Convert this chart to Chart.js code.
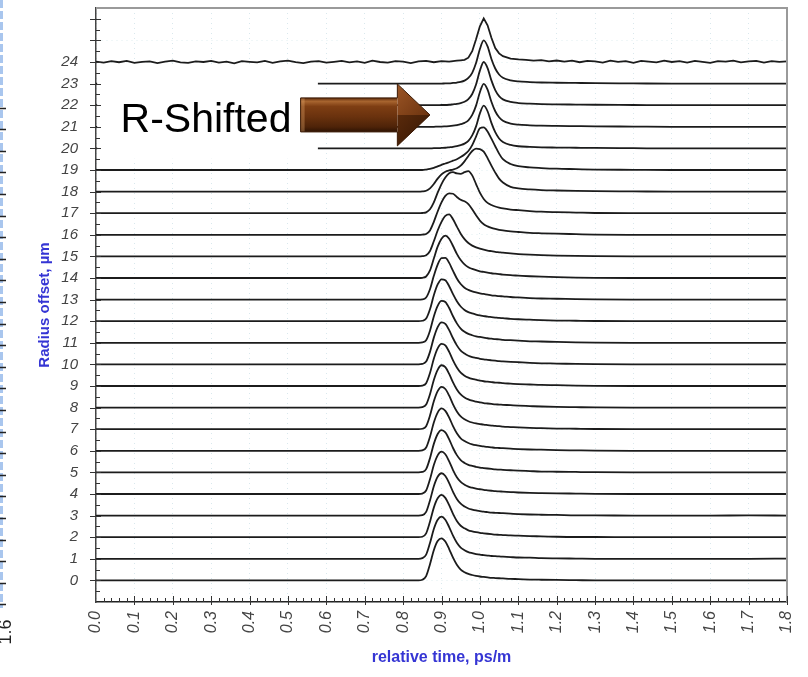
<!DOCTYPE html>
<html>
<head>
<meta charset="utf-8">
<script src="https://cdn.jsdelivr.net/npm/chart.js@4.4.1/dist/chart.umd.min.js"></script>
<style>
  html, body { margin: 0; background: #fff; }
  #wrap { width: 808px; height: 677px; }
</style>
</head>
<body>
<div id="wrap"><canvas id="chart"></canvas></div>
<script>
// radius offsets (µm), one trace per offset
const offsets = [0,1,2,3,4,5,6,7,8,9,10,11,12,13,14,15,16,17,18,19,20,21,22,23,24];

// relative time (ps/m) where traces 0..23 were read
const relTime = [0, 0.80, 0.84, 0.85, 0.86, 0.87, 0.88, 0.89, 0.90, 0.91, 0.92, 0.93, 0.94, 0.95, 0.96, 0.97, 0.98, 0.99,
  1.00, 1.01, 1.02, 1.03, 1.04, 1.05, 1.06, 1.08, 1.10, 1.13, 1.16, 1.20, 1.25, 1.30, 1.40, 1.50, 1.60, 1.70, 1.80];

// pulse height above each trace's own baseline, one row per offset 0..23
const heights = [
  [0,0,0,0.03,0.2,0.75,1.4,1.82,1.95,1.8,1.45,1.05,0.72,0.5,0.38,0.3,0.25,0.21,0.18,0.16,0.14,0.12,0.11,0.1,0.09,0.07,0.06,0.04,0.03,0.02,0.01,0,0,0,0,0,0],
  [0,0,0,0.03,0.19,0.73,1.38,1.81,1.95,1.81,1.47,1.07,0.74,0.52,0.4,0.31,0.26,0.22,0.19,0.17,0.15,0.13,0.12,0.11,0.1,0.08,0.06,0.05,0.03,0.02,0.01,0,0,0,0,0,0.01],
  [0,0,0,0.02,0.18,0.72,1.37,1.8,1.96,1.82,1.48,1.08,0.75,0.53,0.41,0.32,0.27,0.23,0.2,0.18,0.16,0.14,0.12,0.11,0.1,0.08,0.07,0.05,0.04,0.02,0.01,0.01,0,0,0,0,0],
  [0,0,0,0.02,0.17,0.7,1.36,1.8,1.96,1.83,1.5,1.1,0.77,0.55,0.42,0.33,0.28,0.24,0.21,0.18,0.16,0.14,0.13,0.12,0.11,0.09,0.07,0.05,0.04,0.03,0.01,0.01,0,0,0,0.01,0],
  [0,0,0,0.02,0.16,0.68,1.34,1.79,1.96,1.84,1.51,1.11,0.78,0.56,0.43,0.34,0.29,0.25,0.22,0.19,0.17,0.15,0.13,0.12,0.11,0.09,0.07,0.05,0.04,0.03,0.02,0.01,0,0,0,0,0],
  [0,0,0,0.02,0.15,0.66,1.32,1.78,1.96,1.85,1.53,1.13,0.8,0.57,0.44,0.35,0.3,0.26,0.22,0.2,0.18,0.16,0.14,0.13,0.12,0.1,0.08,0.06,0.04,0.03,0.02,0.01,0,0,0,0,0],
  [0,0,0,0.02,0.15,0.65,1.31,1.77,1.96,1.85,1.54,1.14,0.81,0.58,0.45,0.36,0.3,0.26,0.23,0.2,0.18,0.16,0.14,0.13,0.12,0.1,0.08,0.06,0.05,0.03,0.02,0.01,0,0,0,0,0],
  [0,0,0,0.02,0.14,0.63,1.29,1.76,1.96,1.86,1.55,1.15,0.82,0.59,0.46,0.37,0.31,0.27,0.24,0.21,0.19,0.17,0.15,0.14,0.12,0.1,0.08,0.06,0.05,0.03,0.02,0.01,0,0,0,0,0],
  [0,0,0,0.02,0.14,0.62,1.28,1.75,1.96,1.87,1.56,1.17,0.84,0.61,0.47,0.38,0.32,0.28,0.24,0.21,0.19,0.17,0.15,0.14,0.13,0.11,0.09,0.07,0.05,0.03,0.02,0.01,0,0,0,0,0],
  [0,0,0,0.02,0.13,0.6,1.26,1.74,1.95,1.88,1.58,1.19,0.86,0.62,0.48,0.39,0.33,0.29,0.25,0.22,0.2,0.18,0.16,0.15,0.13,0.11,0.09,0.07,0.05,0.04,0.02,0.01,0,0,0,0,0],
  [0,0,0,0.02,0.13,0.58,1.24,1.73,1.95,1.88,1.59,1.21,0.88,0.64,0.5,0.4,0.34,0.3,0.26,0.23,0.21,0.19,0.17,0.15,0.14,0.12,0.1,0.07,0.05,0.04,0.02,0.01,0,0,0,0,0],
  [0,0,0,0.02,0.12,0.56,1.22,1.71,1.94,1.89,1.61,1.23,0.9,0.66,0.51,0.41,0.35,0.3,0.27,0.24,0.21,0.19,0.17,0.16,0.14,0.12,0.1,0.07,0.06,0.04,0.02,0.01,0,0,0,0,0],
  [0,0,0,0.02,0.12,0.55,1.2,1.7,1.94,1.9,1.62,1.25,0.92,0.68,0.52,0.42,0.36,0.31,0.27,0.24,0.21,0.19,0.17,0.15,0.14,0.11,0.09,0.07,0.05,0.03,0.02,0.01,0,0,0,0,0],
  [0,0,0,0.01,0.1,0.48,1.1,1.62,1.92,1.93,1.7,1.33,0.98,0.72,0.55,0.45,0.38,0.33,0.29,0.26,0.23,0.2,0.18,0.16,0.15,0.12,0.1,0.07,0.05,0.04,0.02,0.01,0,0,0,0,0],
  [0,0,0,0.01,0.07,0.35,0.9,1.45,1.82,1.96,1.82,1.48,1.12,0.83,0.63,0.5,0.42,0.36,0.31,0.28,0.25,0.22,0.2,0.18,0.16,0.13,0.11,0.08,0.06,0.04,0.02,0.01,0,0,0,0,0],
  [0,0,0,0.01,0.05,0.25,0.7,1.2,1.6,1.88,1.95,1.72,1.38,1.05,0.8,0.62,0.5,0.42,0.36,0.31,0.27,0.24,0.21,0.19,0.17,0.14,0.11,0.08,0.06,0.04,0.02,0.01,0,0,0,0,0],
  [0,0,0,0.01,0.04,0.2,0.6,1.08,1.5,1.8,1.92,1.9,1.75,1.62,1.55,1.42,1.18,0.9,0.66,0.49,0.39,0.32,0.27,0.23,0.2,0.16,0.13,0.09,0.07,0.05,0.03,0.01,0,0,0,0,0],
  [0,0,0,0.01,0.04,0.18,0.5,0.95,1.35,1.65,1.85,1.9,1.84,1.82,1.9,1.95,1.75,1.35,0.95,0.66,0.48,0.38,0.31,0.26,0.22,0.17,0.14,0.1,0.07,0.05,0.03,0.01,0,0,0,0,0],
  [0,0,0,0.01,0.04,0.15,0.35,0.6,0.8,0.92,0.98,1.02,1.08,1.2,1.4,1.65,1.88,1.99,1.97,1.85,1.55,1.2,0.88,0.6,0.42,0.22,0.15,0.1,0.07,0.05,0.03,0.02,0.01,0,0,0,0],
  [0,0,0,0,0.02,0.05,0.1,0.17,0.24,0.3,0.36,0.43,0.5,0.6,0.72,0.88,1.15,1.55,1.93,1.97,1.78,1.45,1.1,0.76,0.5,0.28,0.18,0.12,0.09,0.06,0.04,0.02,0.01,0,0,0,0],
  [0,0,0,0,0,0,0.01,0.01,0.02,0.03,0.05,0.07,0.1,0.15,0.22,0.35,0.6,1.02,1.62,1.98,1.72,1.18,0.75,0.46,0.3,0.16,0.1,0.07,0.05,0.04,0.03,0.02,0.01,0,0,0,0],
  [0,0,0,0,0,0,0,0.01,0.01,0.02,0.03,0.05,0.08,0.12,0.18,0.3,0.55,0.98,1.6,1.99,1.72,1.16,0.72,0.44,0.28,0.15,0.1,0.07,0.05,0.04,0.03,0.02,0.01,0,0,0,0],
  [0,0,0,0,0,0,0,0,0.01,0.01,0.02,0.04,0.06,0.1,0.16,0.28,0.52,0.96,1.6,2.0,1.72,1.15,0.7,0.42,0.27,0.15,0.1,0.07,0.05,0.04,0.03,0.02,0.01,0,0,0,0],
  [0,0,0,0,0,0,0,0,0,0.01,0.01,0.03,0.05,0.08,0.14,0.26,0.5,0.95,1.6,2.0,1.72,1.14,0.7,0.42,0.27,0.15,0.1,0.07,0.05,0.04,0.03,0.02,0.01,0,0,0,0]
];

// top trace (offset 24) is noisy, read on a finer time grid
const topTime = [0,0.02,0.04,0.06,0.08,0.10,0.12,0.14,0.16,0.18,0.20,0.22,0.24,0.26,0.28,0.30,0.32,0.34,0.36,0.38,0.40,0.42,0.44,0.46,
  0.48,0.50,0.52,0.54,0.56,0.58,0.60,0.62,0.64,0.66,0.68,0.70,0.72,0.74,0.76,0.78,0.80,0.82,0.84,0.86,0.88,0.90,0.92,0.94,
  0.95,0.96,0.97,0.98,0.99,1.00,1.01,1.02,1.03,1.04,1.05,1.06,
  1.08,1.10,1.12,1.14,1.16,1.18,1.20,1.22,1.24,1.26,1.28,1.30,1.32,1.34,1.36,1.38,1.40,1.42,1.44,1.46,1.48,1.50,1.52,1.54,
  1.56,1.58,1.60,1.62,1.64,1.66,1.68,1.70,1.72,1.74,1.76,1.78,1.80];
const topHeights = [0.02,-0.03,0.04,-0.01,0.05,-0.04,0.01,0.03,-0.05,0.02,0.06,-0.02,-0.04,0.03,0.00,0.05,-0.03,0.02,-0.06,0.04,0.01,-0.02,0.05,-0.04,
  0.03,0.06,-0.01,-0.05,0.02,0.04,-0.03,0.01,0.05,-0.02,0.03,-0.04,0.06,0.00,-0.03,0.04,0.02,-0.05,0.03,0.05,-0.01,0.04,0.02,0.06,
  0.08,0.1,0.2,0.5,1.05,1.65,2.02,1.7,1.12,0.65,0.4,0.27,
  0.16,0.12,0.1,0.06,0.09,0.03,0.07,0.02,0.06,-0.01,0.05,0.03,-0.03,0.06,0.01,0.04,-0.04,0.05,0.02,-0.02,0.06,0.00,0.04,-0.03,
  0.05,0.01,-0.04,0.04,0.02,0.06,-0.02,0.03,0.05,-0.03,0.04,0.01,0.03];

const FONT = '"Liberation Sans", Arial, sans-serif';

// note placed over the upper traces, in data units
const note = { text: 'R-Shifted', boxX: [0.003, 0.578], boxY: [19.52, 23.8], textX: 0.064, textY: 20.75,
  arrowX: [0.533, 0.785, 0.87], arrowY: 21.55 };

const datasets = offsets.map(n => {
  const noisy = n === 24;
  const xs = noisy ? topTime : relTime;
  const hs = noisy ? topHeights : heights[n];
  return {
    label: String(n),
    data: xs.map((t, i) => ({ x: t, y: n + hs[i] })),
    borderColor: '#1c1c1c',
    borderWidth: 1.8,
    pointRadius: 0,
    fill: false,
    tension: noisy ? 0 : 0.4,
    cubicInterpolationMode: noisy ? 'default' : 'monotone'
  };
});

const decor = {
  id: 'decor',
  afterDatasetsDraw(chart) {
    const { ctx, chartArea: a, scales: { x, y } } = chart;
    ctx.save();

    // white note box with text and arrow
    const bx0 = x.getPixelForValue(note.boxX[0]), bx1 = x.getPixelForValue(note.boxX[1]);
    const by0 = y.getPixelForValue(note.boxY[1]), by1 = y.getPixelForValue(note.boxY[0]);
    ctx.fillStyle = '#fff';
    ctx.fillRect(bx0, by0, bx1 - bx0, by1 - by0);
    ctx.fillStyle = '#000';
    ctx.font = '41px ' + FONT;
    ctx.textBaseline = 'alphabetic';
    ctx.fillText(note.text, x.getPixelForValue(note.textX), y.getPixelForValue(note.textY));

    const tx = x.getPixelForValue(note.arrowX[0]), nx = x.getPixelForValue(note.arrowX[1]), hx = x.getPixelForValue(note.arrowX[2]);
    const cy = y.getPixelForValue(note.arrowY);
    const sh = 17, hh = 31;
    let g = ctx.createLinearGradient(0, cy - sh, 0, cy + sh);
    g.addColorStop(0, '#5e2b0b');
    g.addColorStop(0.1, '#a8652f');
    g.addColorStop(0.25, '#7e3e13');
    g.addColorStop(0.55, '#6a320e');
    g.addColorStop(0.85, '#4e2308');
    g.addColorStop(1, '#2e1303');
    ctx.fillStyle = g;
    ctx.fillRect(tx, cy - sh, nx - tx, sh * 2);
    // bevel on the tail end
    ctx.fillStyle = 'rgba(230,170,110,0.35)';
    ctx.fillRect(tx, cy - sh, 4, sh * 2);
    // head, upper and lower facets
    g = ctx.createLinearGradient(nx, cy - hh, hx, cy);
    g.addColorStop(0, '#9c5626');
    g.addColorStop(1, '#6c330f');
    ctx.fillStyle = g;
    ctx.beginPath(); ctx.moveTo(nx, cy - hh); ctx.lineTo(hx, cy); ctx.lineTo(nx, cy); ctx.closePath(); ctx.fill();
    g = ctx.createLinearGradient(nx, cy, hx, cy + hh);
    g.addColorStop(0, '#5a2a0b');
    g.addColorStop(1, '#341604');
    ctx.fillStyle = g;
    ctx.beginPath(); ctx.moveTo(nx, cy); ctx.lineTo(hx, cy); ctx.lineTo(nx, cy + hh); ctx.closePath(); ctx.fill();
    ctx.strokeStyle = '#3a1904';
    ctx.lineWidth = 1;
    ctx.beginPath();
    ctx.moveTo(tx, cy - sh); ctx.lineTo(nx, cy - sh); ctx.lineTo(nx, cy - hh); ctx.lineTo(hx, cy);
    ctx.lineTo(nx, cy + hh); ctx.lineTo(nx, cy + sh); ctx.lineTo(tx, cy + sh); ctx.closePath();
    ctx.stroke();

    // frame: grey top and right edges
    ctx.strokeStyle = '#9a9a9a';
    ctx.lineWidth = 2;
    ctx.beginPath();
    ctx.moveTo(a.left, a.top); ctx.lineTo(a.right, a.top); ctx.lineTo(a.right, a.bottom);
    ctx.stroke();

    // major / minor tick marks
    ctx.strokeStyle = '#333';
    ctx.lineWidth = 1;
    ctx.beginPath();
    for (let i = 1; i <= 90; i++) {
      const px = Math.round(x.getPixelForValue(i / 50)) + 0.5;
      const major = i % 5 === 0;
      ctx.moveTo(px, a.bottom + (major ? 3 : 0));
      ctx.lineTo(px, a.bottom - (major ? 6 : 4));
    }
    for (let k = -1; k <= 52; k++) {
      const py = Math.round(y.getPixelForValue(k / 2)) + 0.5;
      const major = k % 2 === 0;
      ctx.moveTo(a.left - (major ? 6 : 0), py);
      ctx.lineTo(a.left + (major ? 5 : 4), py);
    }
    ctx.stroke();

    // cropped neighbour panel at the left edge
    ctx.strokeStyle = '#a9c6ee';
    ctx.lineWidth = 3;
    ctx.setLineDash([8, 3]);
    ctx.beginPath(); ctx.moveTo(1.5, 0); ctx.lineTo(1.5, a.bottom + 6); ctx.stroke();
    ctx.setLineDash([]);
    ctx.strokeStyle = '#222';
    ctx.lineWidth = 1.5;
    ctx.beginPath();
    for (let k = -1; k <= 22; k++) {
      const py = Math.round(y.getPixelForValue(k - 0.11)) + 0.5;
      ctx.moveTo(0, py); ctx.lineTo(6, py);
    }
    ctx.stroke();
    ctx.translate(11, a.bottom + 30);
    ctx.rotate(-Math.PI / 2);
    ctx.fillStyle = '#222';
    ctx.font = '18px ' + FONT;
    ctx.textAlign = 'center';
    ctx.fillText('1.6', 0, 0);
    ctx.restore();
  }
};

new Chart(document.getElementById('chart'), {
  type: 'line',
  data: { datasets },
  options: {
    responsive: true,
    maintainAspectRatio: false,
    animation: false,
    layout: { padding: { top: 8, right: 21, bottom: 0, left: 0 } },
    plugins: { legend: { display: false }, tooltip: { enabled: false } },
    scales: {
      x: {
        type: 'linear',
        min: 0,
        max: 1.8,
        ticks: {
          stepSize: 0.1,
          autoSkip: false,
          minRotation: 90,
          maxRotation: 90,
          padding: 9,
          color: '#444',
          font: { family: FONT, size: 16, style: 'italic' },
          callback: v => v.toFixed(1)
        },
        grid: { color: 'rgba(170,205,215,0.45)', drawTicks: false },
        border: { color: '#222', width: 1.5, dash: [1, 4] },
        title: {
          display: true,
          text: 'relative time, ps/m',
          color: '#3535d4',
          font: { family: FONT, size: 16, weight: 'bold' },
          padding: { top: 0, bottom: 10 }
        },
        afterFit: s => { s.height = 75; s.paddingLeft = 0; s.paddingRight = 0; }
      },
      y: {
        type: 'linear',
        min: -1,
        max: 26.5,
        ticks: {
          stepSize: 1,
          autoSkip: false,
          padding: 18,
          color: '#444',
          font: { family: FONT, size: 15, style: 'italic' },
          callback: v => (Number.isInteger(v) && v >= 0 && v <= 24) ? String(v) : ''
        },
        grid: { color: 'rgba(170,205,215,0.35)', drawTicks: false },
        border: { color: '#444', width: 1.5, dash: [1, 4] },
        title: {
          display: true,
          text: 'Radius offset, µm',
          color: '#3535d4',
          font: { family: FONT, size: 15, weight: 'bold' },
          padding: { top: 36, bottom: 0 }
        },
        afterFit: s => { s.width = 96; s.paddingTop = 0; s.paddingBottom = 0; }
      }
    }
  },
  plugins: [decor]
});
</script>
</body>
</html>
